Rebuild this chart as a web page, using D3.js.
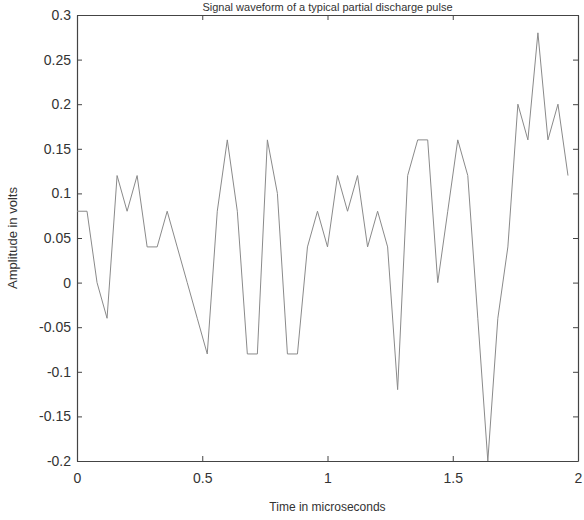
<!DOCTYPE html>
<html>
<head>
<meta charset="utf-8">
<script src="https://cdn.jsdelivr.net/npm/d3@7"></script>
<style>
  html, body { margin: 0; padding: 0; background: #fff; }
  svg { display: block; }
  text { font-family: "Liberation Sans", Arial, sans-serif; fill: #333; }
</style>
</head>
<body>
<svg id="chart" width="584" height="520"></svg>
<script>
// Sample times (microseconds)
const timeUs = [
  0.00, 0.04, 0.08, 0.12, 0.16, 0.20, 0.24, 0.28, 0.32, 0.36,
  0.40, 0.44, 0.48, 0.52, 0.56, 0.60, 0.64, 0.68, 0.72, 0.76,
  0.80, 0.84, 0.88, 0.92, 0.96, 1.00, 1.04, 1.08, 1.12, 1.16,
  1.20, 1.24, 1.28, 1.32, 1.36, 1.40, 1.44, 1.48, 1.52, 1.56,
  1.60, 1.64, 1.68, 1.72, 1.76, 1.80, 1.84, 1.88, 1.92, 1.96
];
// Amplitude (volts)
const amplitudeV = [
  0.08, 0.08, 0.00, -0.04, 0.12, 0.08, 0.12, 0.04, 0.04, 0.08,
  0.04, 0.00, -0.04, -0.08, 0.08, 0.16, 0.08, -0.08, -0.08, 0.16,
  0.10, -0.08, -0.08, 0.04, 0.08, 0.04, 0.12, 0.08, 0.12, 0.04,
  0.08, 0.04, -0.12, 0.12, 0.16, 0.16, 0.00, 0.08, 0.16, 0.12,
  -0.04, -0.20, -0.04, 0.04, 0.20, 0.16, 0.28, 0.16, 0.20, 0.12
];
const xTicks = [0, 0.5, 1, 1.5, 2];
const xTickLabels = ["0", "0.5", "1", "1.5", "2"];
const yTicks = [-0.2, -0.15, -0.1, -0.05, 0, 0.05, 0.1, 0.15, 0.2, 0.25, 0.3];
const yTickLabels = ["-0.2", "-0.15", "-0.1", "-0.05", "0", "0.05", "0.1", "0.15", "0.2", "0.25", "0.3"];

const titleText = "Signal waveform of a typical partial discharge pulse";
const xLabel = "Time in microseconds";
const yLabel = "Amplitude in volts";

const svg = d3.select("#chart");
const m = { left: 77, right: 578, top: 15, bottom: 461 };

const x = d3.scaleLinear().domain([0, 2]).range([m.left, m.right]);
const y = d3.scaleLinear().domain([-0.2, 0.3]).range([m.bottom, m.top]);

const axisColor = "#444";
const tickLen = 5;

// Title, squeezed into the strip above the frame
svg.append("text")
  .attr("x", (m.left + m.right) / 2)
  .attr("y", 11)
  .attr("text-anchor", "middle")
  .attr("font-size", 11)
  .attr("fill", "#555")
  .text(titleText);

// Axes: bottom/left with labels, top/right ticks only, all ticks pointing inward
const fmtX = (d, i) => xTickLabels[i];
const fmtY = (d, i) => yTickLabels[i];

const gBottom = svg.append("g")
  .attr("transform", `translate(0,${m.bottom})`)
  .call(d3.axisBottom(x).tickValues(xTicks).tickFormat(fmtX).tickSizeInner(-tickLen).tickSizeOuter(0).tickPadding(12));
const gTop = svg.append("g")
  .attr("transform", `translate(0,${m.top})`)
  .call(d3.axisTop(x).tickValues(xTicks).tickFormat("").tickSizeInner(-tickLen).tickSizeOuter(0));
const gLeft = svg.append("g")
  .attr("transform", `translate(${m.left},0)`)
  .call(d3.axisLeft(y).tickValues(yTicks).tickFormat(fmtY).tickSizeInner(-tickLen).tickSizeOuter(0).tickPadding(6));
const gRight = svg.append("g")
  .attr("transform", `translate(${m.right},0)`)
  .call(d3.axisRight(y).tickValues(yTicks).tickFormat("").tickSizeInner(-tickLen).tickSizeOuter(0));

[gBottom, gTop, gLeft, gRight].forEach(g => {
  g.select(".domain").attr("stroke", axisColor).attr("stroke-width", 1.2);
  g.selectAll(".tick line").attr("stroke", axisColor);
  g.selectAll(".tick text")
    .attr("font-size", 14)
    .attr("fill", "#333")
    .attr("font-family", "\"Liberation Sans\", Arial, sans-serif");
});

// Signal trace
const line = d3.line()
  .x((d, i) => x(timeUs[i]))
  .y(d => y(d));

svg.append("path")
  .datum(amplitudeV)
  .attr("fill", "none")
  .attr("stroke", "#8a8a8a")
  .attr("stroke-width", 1)
  .attr("stroke-linejoin", "miter")
  .attr("d", line);

// Axis titles
svg.append("text")
  .attr("x", (m.left + m.right) / 2)
  .attr("y", 511)
  .attr("text-anchor", "middle")
  .attr("font-size", 12)
  .text(xLabel);

svg.append("text")
  .attr("transform", `translate(17,${(m.top + m.bottom) / 2}) rotate(-90)`)
  .attr("text-anchor", "middle")
  .attr("font-size", 13)
  .text(yLabel);
</script>
</body>
</html>
